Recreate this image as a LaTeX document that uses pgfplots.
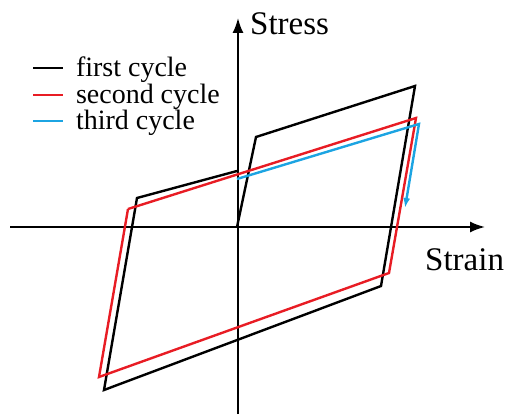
\documentclass[border=0pt]{standalone}
\usepackage{pgfplots}
\pgfplotsset{compat=1.18}
\usepackage{fontspec}
\setmainfont{Liberation Serif}
\usetikzlibrary{arrows.meta}

\definecolor{cycred}{RGB}{232,28,36}
\definecolor{cycblue}{RGB}{28,164,226}

\begin{document}
\begin{tikzpicture}
\begin{axis}[
  scale only axis,
  width=505pt, height=414pt,
  xmin=-237, xmax=268, ymin=-187, ymax=227,
  hide axis,
  clip=false,
  legend image code/.code={%
    \draw[#1, line width=2pt, arrows=-] (0pt,3pt) -- (30pt,3pt);
    \path[arrows=-, draw=none] (43pt,3pt) -- (43pt,3pt);},
  legend cell align=left,
  legend style={
    at={(axis cs:-205,169)}, anchor=north west,
    draw=none, fill=none, inner sep=0pt, outer sep=0pt,
    row sep=0pt, column sep=0pt,
    font=\fontsize{28}{28}\selectfont,
    nodes={inner sep=0pt, outer sep=0pt, text height=19pt, text depth=7.5pt},
  },
]
% page extent
\path (axis cs:-237,-187) rectangle (axis cs:268,227);

% strain and stress axes
\draw[line width=1.8pt, -{Latex[length=15pt,width=11pt]}]
  (axis cs:-227,0) -- (axis cs:248,0);
\draw[line width=1.8pt, -{Latex[length=15pt,width=11pt]}]
  (axis cs:1,-187) -- (axis cs:1,209);

% first cycle: initial loading, unloading, reverse loading, reloading
\addplot[black, line width=2.4pt, line join=miter] coordinates {
  (0,0) (19,90) (178,141) (144,-59) (-133,-163) (-100,29) (0,56)
};
\addlegendentry{first cycle}

% second cycle (closed loop)
\addplot[cycred, line width=2.4pt, line join=miter] coordinates {
  (-109,18) (179,109) (152,-46) (-138,-150) (-109,18)
};
\addlegendentry{second cycle}

% third cycle, loading then start of unloading
\addplot[cycblue, line width=2.4pt, line join=miter,
  -{Latex[length=10pt,width=7pt]}] coordinates {
  (0,48) (182,103) (168,19)
};
\addlegendentry{third cycle}

\node[anchor=base west, inner sep=0pt, font=\fontsize{33}{33}\selectfont]
  at (axis cs:13,192) {Stress};
\node[anchor=base west, inner sep=0pt, font=\fontsize{33}{33}\selectfont]
  at (axis cs:188,-43) {Strain};
\end{axis}
\end{tikzpicture}
\end{document}
